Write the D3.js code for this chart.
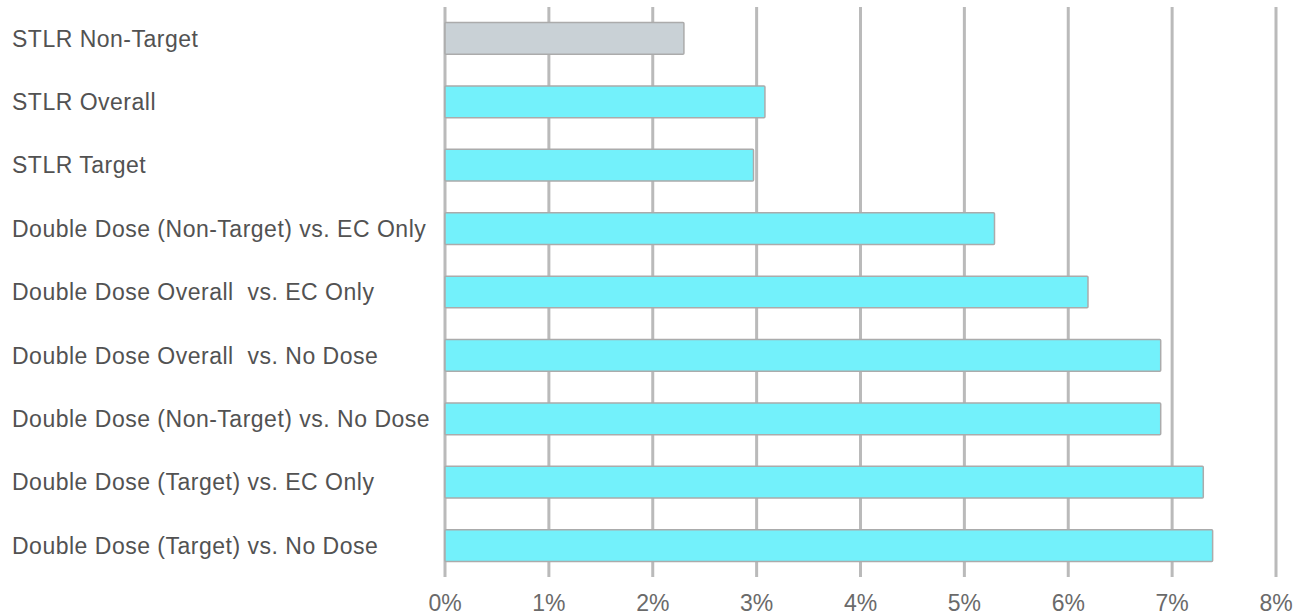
<!DOCTYPE html>
<html>
<head>
<meta charset="utf-8">
<script src="https://cdn.jsdelivr.net/npm/d3@7"></script>
<style>
  body { margin: 0; background: #fff; }
  text { font-family: "Liberation Sans", Arial, sans-serif; white-space: pre; }
</style>
</head>
<body>
<svg width="1297" height="616"></svg>
<script>
// datos
const categories = [
  "STLR Non-Target",
  "STLR Overall",
  "STLR Target",
  "Double Dose (Non-Target) vs. EC Only",
  "Double Dose Overall  vs. EC Only",
  "Double Dose Overall  vs. No Dose",
  "Double Dose (Non-Target) vs. No Dose",
  "Double Dose (Target) vs. EC Only",
  "Double Dose (Target) vs. No Dose"
]
const values = [2.30, 3.08, 2.97, 5.29, 6.19, 6.89, 6.89, 7.30, 7.39]
const ticks = [0, 1, 2, 3, 4, 5, 6, 7, 8]

const svg = d3.select("svg")

// escalas
const xScale = d3.scaleLinear([0, 8], [445, 1276])
const yScale = d3.scaleBand(categories, [7, 577])
  .paddingInner(0.5)
  .paddingOuter(0.245)

// rejilla
svg.append("g")
  .selectAll("line")
  .data(ticks)
  .join("line")
    .attr("x1", d => xScale(d))
    .attr("x2", d => xScale(d))
    .attr("y1", 7)
    .attr("y2", 577)
    .attr("stroke", "#bababa")
    .attr("stroke-width", 3)

// barras
svg.append("g")
  .selectAll("rect")
  .data(values)
  .join("rect")
    .attr("x", xScale(0))
    .attr("y", (d, i) => yScale(categories[i]))
    .attr("width", d => xScale(d) - xScale(0))
    .attr("height", yScale.bandwidth())
    .attr("rx", 1)
    .attr("fill", (d, i) => i === 0 ? "#c9d1d6" : "#73f1fb")
    .attr("stroke", "#ababab")
    .attr("stroke-width", 1.5)

// etiquetas
svg.append("g")
  .selectAll("text")
  .data(categories)
  .join("text")
    .attr("x", 12)
    .attr("y", d => yScale(d) + yScale.bandwidth() / 2)
    .attr("dy", "0.36em")
    .attr("font-size", "23px")
    .attr("letter-spacing", "0.5px")
    .attr("fill", "#525252")
    .text(d => d)

// eje x
svg.append("g")
  .selectAll("text")
  .data(ticks)
  .join("text")
    .attr("x", d => xScale(d))
    .attr("y", 611)
    .attr("text-anchor", "middle")
    .attr("font-size", "23px")
    .attr("fill", "#6a6a6a")
    .text(d => d + "%")
</script>
</body>
</html>
